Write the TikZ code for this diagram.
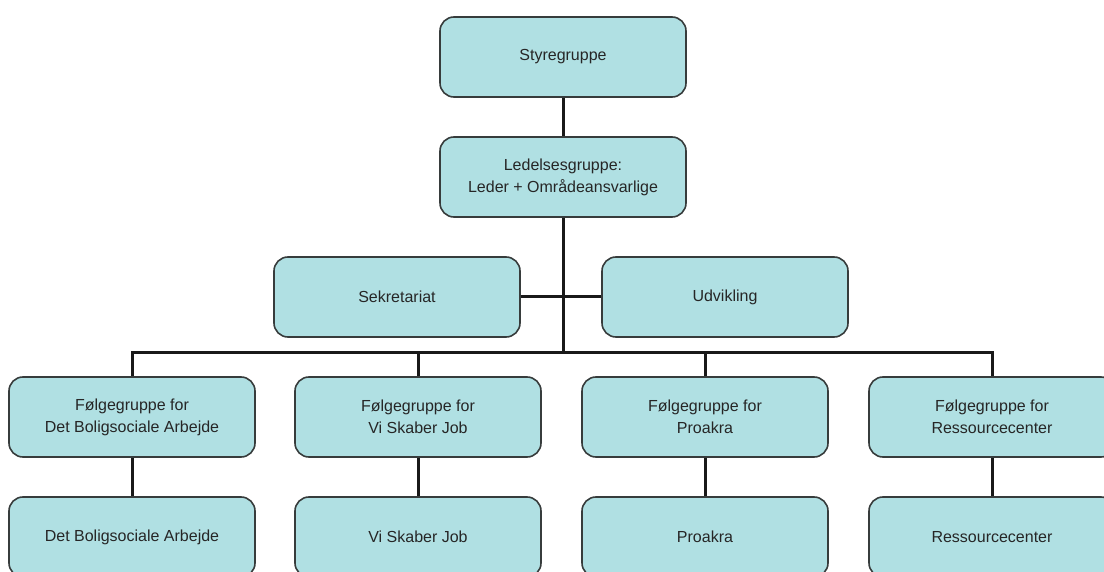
\documentclass[tikz,border=0pt]{standalone}
\usepackage{fontspec}
\setmainfont{Liberation Sans}
\definecolor{boxcyan}{RGB}{176,224,227}
\definecolor{boxedge}{RGB}{55,60,60}

\begin{document}
\begin{tikzpicture}[x=1pt, y=-1pt,
        boks/.style={draw=boxedge, line width=1.6pt, fill=boxcyan, rounded corners=14pt, minimum width=246pt, minimum height=80pt, align=center, text=black!85, font=\fontsize{16}{22}\selectfont},
        linje/.style={line width=3pt, black!90}]
        \useasboundingbox (0, 0) rectangle (1104, 572);
        \clip (0, 0) rectangle (1104, 572);

        % top of the organisation
        \node (styre) at (563, 57)[boks] {Styregruppe};
        \node (ledelse) at (563, 177)[boks] {Ledelsesgruppe:\\Leder + Områdeansvarlige};

        \node (sekr) at (397, 297)[boks] {Sekretariat};
        \node (udv) at (725, 297)[boks] {Udvikling};

        \coordinate (bus) at (563, 352);

        % følgegrupper
        \node (fA) at (132, 417)[boks] {Følgegruppe for\\Det Boligsociale Arbejde};
        \node (fB) at (418, 417)[boks] {Følgegruppe for\\Vi Skaber Job};
        \node (fC) at (705, 417)[boks] {Følgegruppe for\\Proakra};
        \node (fD) at (992, 417)[boks] {Følgegruppe for\\Ressourcecenter};

        % projekter
        \node (pA) at (132, 537)[boks] {Det Boligsociale Arbejde};
        \node (pB) at (418, 537)[boks] {Vi Skaber Job};
        \node (pC) at (705, 537)[boks] {Proakra};
        \node (pD) at (992, 537)[boks] {Ressourcecenter};

        \draw[linje] (styre) -- (ledelse);
        \draw[linje] (ledelse) -- (bus);
        \draw[linje] (sekr) -- (udv);

        \foreach \g in {A, B, C, D} {
            \draw[linje] (bus) -| (f\g.north);
            \draw[linje] (f\g) -- (p\g);
        }
    \end{tikzpicture}
\end{document}
